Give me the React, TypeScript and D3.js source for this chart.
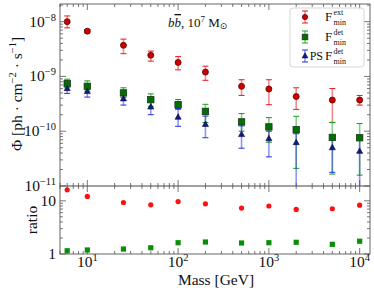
import * as React from 'react';
import * as d3 from 'd3';

const masses = [6, 10, 25, 50, 100, 200, 500, 1000, 2000, 5000, 10000];

// F_min^ext
const extVal = [1.0e-8, 6.7e-9, 3.7e-9, 2.44e-9, 1.8e-9, 1.2e-9, 6.6e-10, 5.9e-10, 4.3e-10, 3.7e-10, 3.7e-10];
const extHi = [1.27e-8, 7.2e-9, 4.8e-9, 2.9e-9, 2.3e-9, 1.54e-9, 8.7e-10, 8.7e-10, 6.2e-10, 6.0e-10, 4.5e-10];
const extLo = [7.7e-9, 6.2e-9, 2.6e-9, 1.9e-9, 1.32e-9, 8.5e-10, 4.5e-10, 3.05e-10, 2.5e-10, 1.45e-10, 3.0e-10];

// F_min^det
const detVal = [7.4e-10, 6.6e-10, 5.0e-10, 3.77e-10, 3.05e-10, 2.3e-10, 1.48e-10, 1.2e-10, 1.07e-10, 7.7e-11, 7.6e-11];
const detHi = [8.9e-10, 8.3e-10, 6.2e-10, 4.8e-10, 3.8e-10, 3.1e-10, 2.1e-10, 1.77e-10, 1.87e-10, 1.44e-10, 1.38e-10];
const detLo = [6.2e-10, 5.4e-10, 4.1e-10, 2.85e-10, 2.5e-10, 1.44e-10, 1.0e-10, 6.3e-11, 2.1e-11, 1.65e-11, 1.58e-11];

// PS F_min^det
const psVal = [6.0e-10, 5.3e-10, 3.9e-10, 2.77e-10, 1.8e-10, 1.33e-10, 8.7e-11, 7.3e-11, 6.2e-11, 5.0e-11, 4.3e-11];
const psHi = [6.9e-10, 6.2e-10, 4.7e-10, 3.8e-10, 2.6e-10, 1.89e-10, 1.25e-10, 1.0e-10, 9.0e-11, 7.0e-11, 7.7e-11];
const psLo = [4.9e-10, 4.2e-10, 3.0e-10, 2.0e-10, 1.23e-10, 7.6e-11, 4.9e-11, 3.4e-11, 5e-12, 1.78e-11, 5e-12];

// ratios
const ratioExt = [16.1, 12.1, 9.3, 8.4, 9.7, 8.8, 7.3, 8.0, 6.9, 7.1, 8.3];
const ratioDet = [1.15, 1.19, 1.24, 1.31, 1.63, 1.68, 1.61, 1.63, 1.66, 1.52, 1.74];

const xDecades = [10, 100, 1000, 10000];
const xTickLabels = ['1', '2', '3', '4'];
const yDecades = [1e-8, 1e-9, 1e-10, 1e-11];
const yTickLabels = ['−8', '−9', '−10', '−11'];
const rDecades = [1, 10];
const rTickLabels = ['1', '10'];

const W = 374;
const H = 290;
const L = 60;
const R = 370;
const T = 4;
const MID = 186;
const B = 254;
const FONT = '"Liberation Serif", "Times New Roman", serif';
const AX = '#555';
const RED = '#e41a1c';
const GREEN = '#1a9a1a';
const BLUE = '#1f2fe0';

const x = d3.scaleLog().domain([5, 13000]).range([L, R]);
const y = d3.scaleLog().domain([1e-11, 2.1e-8]).range([MID, T]);
const yr = d3.scaleLog().domain([1, 19]).range([B, MID]);

const isDecade = (v: number) => Math.abs(Math.log10(v) - Math.round(Math.log10(v))) < 1e-6;

const ErrBar: React.FC<{ cx: number; y1: number; y2: number; color: string }> = ({ cx, y1, y2, color }) => (
  <g>
    <line x1={cx} x2={cx} y1={y1} y2={y2} stroke={color} strokeOpacity={0.5} strokeWidth={1.6} />
    <line x1={cx - 3} x2={cx + 3} y1={y1} y2={y1} stroke={color} strokeWidth={1} />
    <line x1={cx - 3} x2={cx + 3} y1={y2} y2={y2} stroke={color} strokeWidth={1} />
  </g>
);

const tri = (cx: number, cy: number, s: number) =>
  `M${cx},${cy - s} L${cx + s * 0.9},${cy + s * 0.6} L${cx - s * 0.9},${cy + s * 0.6} Z`;

const App: React.FC = () => {
  const xMinor = x.ticks().filter((v) => v >= 5 && v <= 13000);
  const yMinor = y.ticks();
  const rMinor = yr.ticks();

  const xTickMarks = (yy: number, dir: number) =>
    xMinor.map((v, i) => (
      <line key={i} x1={x(v)} x2={x(v)} y1={yy} y2={yy + dir * (isDecade(v) ? 6 : 3)} stroke={AX} strokeWidth={0.8} />
    ));
  const yTickMarks = (sc: d3.ScaleLogarithmic<number, number>, ticks: number[]) =>
    ticks.map((v, i) => (
      <g key={i}>
        <line x1={L} x2={L + (isDecade(v) ? 6 : 3)} y1={sc(v)} y2={sc(v)} stroke={AX} strokeWidth={0.8} />
        <line x1={R} x2={R - (isDecade(v) ? 6 : 3)} y1={sc(v)} y2={sc(v)} stroke={AX} strokeWidth={0.8} />
      </g>
    ));

  const legendRows = [
    { y: 17, color: RED, mark: 'c', pre: '', sup: 'ext' },
    { y: 37, color: GREEN, mark: 's', pre: '', sup: 'det' },
    { y: 56, color: BLUE, mark: 't', pre: 'PS', sup: 'det' },
  ];
  const LX = 305;

  return (
    <svg width={W} height={H} style={{ position: 'absolute', left: 0, top: 0, background: '#fff' }} fontFamily={FONT}>
      <defs>
        <clipPath id="topClip">
          <rect x={L} y={T} width={R - L} height={MID - T} />
        </clipPath>
      </defs>

      {/* top panel data */}
      <g clipPath="url(#topClip)">
        {masses.map((m, i) => (
          <g key={i}>
            <ErrBar cx={x(m)} y1={y(extHi[i])} y2={y(extLo[i])} color={RED} />
            <ErrBar cx={x(m)} y1={y(detHi[i])} y2={y(detLo[i])} color={GREEN} />
            <ErrBar cx={x(m)} y1={y(psHi[i])} y2={y(psLo[i])} color={BLUE} />
          </g>
        ))}
        {masses.map((m, i) => (
          <g key={i}>
            <circle cx={x(m)} cy={y(extVal[i])} r={3} fill="#d00000" stroke="#5a0000" strokeWidth={0.8} />
            <rect x={x(m) - 3.2} y={y(detVal[i]) - 3.2} width={6.4} height={6.4} fill="#007000" stroke="#1a3a1a" strokeWidth={0.8} />
            <path d={tri(x(m), y(psVal[i]), 3.4)} fill="#101a80" stroke="#0a0a40" strokeWidth={0.6} />
          </g>
        ))}
      </g>

      {/* ratio panel data */}
      {masses.map((m, i) => (
        <g key={i}>
          <circle cx={x(m)} cy={yr(ratioExt[i])} r={2.6} fill="#ff1010" />
          <rect x={x(m) - 2.6} y={yr(ratioDet[i]) - 2.6} width={5.2} height={5.2} fill="#079007" />
        </g>
      ))}

      {/* frames */}
      <rect x={L} y={T} width={R - L} height={B - T} fill="none" stroke={AX} strokeWidth={0.9} />
      <line x1={L} x2={R} y1={MID} y2={MID} stroke="#444" strokeWidth={1} />
      {xTickMarks(T, 1)}
      {xTickMarks(MID, -1)}
      {xTickMarks(MID, 1)}
      {xTickMarks(B, -1)}
      {yTickMarks(y, yMinor)}
      {yTickMarks(yr, rMinor)}

      {/* y tick labels top */}
      {yDecades.map((v, i) => (
        <text key={i} x={56} y={y(v) + 5} textAnchor="end" fontSize={15.5} fill="#111">
          10<tspan dy={-6} fontSize={10.5}>{yTickLabels[i]}</tspan>
        </text>
      ))}
      {/* ratio tick labels */}
      {rDecades.map((v, i) => (
        <text key={i} x={56} y={yr(v) + 5} textAnchor="end" fontSize={15.5} fill="#111">
          {rTickLabels[i]}
        </text>
      ))}
      {/* x tick labels */}
      {xDecades.map((v, i) => (
        <text key={i} x={x(v)} y={267} textAnchor="middle" fontSize={15.5} fill="#111">
          10<tspan dy={-6} fontSize={10.5}>{xTickLabels[i]}</tspan>
        </text>
      ))}

      {/* axis titles */}
      <text x={216} y={285} textAnchor="middle" fontSize={15.5} fill="#111">Mass [GeV]</text>
      <text transform="translate(22,94) rotate(-90)" textAnchor="middle" fontSize={15.5} fill="#111">
        Φ [ph · cm<tspan dy={-6} fontSize={10.5}>−2</tspan>
        <tspan dy={6}> · s</tspan>
        <tspan dy={-6} fontSize={10.5}>−1</tspan>
        <tspan dy={6}>]</tspan>
      </text>
      <text transform="translate(37,220) rotate(-90)" textAnchor="middle" fontSize={15.5} fill="#111">ratio</text>

      {/* annotation */}
      <text x={168} y={27} fontSize={13} fill="#111">
        <tspan fontStyle="italic">b</tspan>
        <tspan fontStyle="italic" style={{ textDecoration: 'overline' }}>b</tspan>, 10
        <tspan dy={-5} fontSize={9}>7</tspan>
        <tspan dy={5}> M</tspan>
        <tspan dy={2} fontSize={9} fontFamily='"DejaVu Sans", sans-serif'>⊙</tspan>
      </text>

      {/* legend */}
      <rect x={290} y={8} width={74} height={59} rx={3} fill="#fff" fillOpacity={0.85} stroke="#ccc" strokeWidth={0.8} />
      {legendRows.map((r, i) => (
        <g key={i}>
          <ErrBar cx={LX} y1={r.y - 6} y2={r.y + 6} color={r.color} />
          {r.mark === 'c' && <circle cx={LX} cy={r.y} r={2.6} fill="#d00000" stroke="#5a0000" strokeWidth={0.8} />}
          {r.mark === 's' && <rect x={LX - 2.8} y={r.y - 2.8} width={5.6} height={5.6} fill="#007000" stroke="#1a3a1a" strokeWidth={0.8} />}
          {r.mark === 't' && <path d={tri(LX, r.y, 3.2)} fill="#101a80" stroke="#0a0a40" strokeWidth={0.6} />}
          {r.pre && (
            <text x={323} y={r.y + 4} textAnchor="end" fontSize={12} fill="#111">{r.pre}</text>
          )}
          <text x={325} y={r.y + 4} fontSize={13} fill="#111">F</text>
          <text x={333.5} y={r.y - 2} fontSize={8} fill="#111">{r.sup}</text>
          <text x={333.5} y={r.y + 8} fontSize={8} fill="#111">min</text>
        </g>
      ))}
    </svg>
  );
};

export default App;
